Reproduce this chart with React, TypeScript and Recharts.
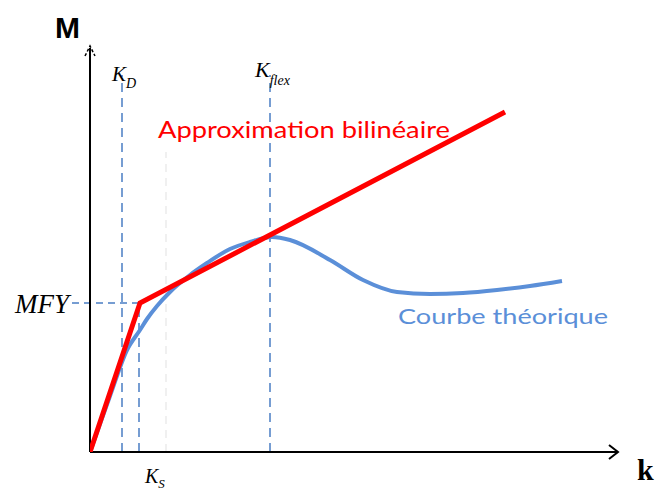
import React from 'react';
import { ComposedChart, Line, XAxis, YAxis, ReferenceLine, ReferenceDot } from 'recharts';

// Bilinear approximation (red)
const bilinearK = [0, 50, 415];
const bilinearM = [0, 149, 340];

// Theoretical curve (blue)
const theoK = [0, 20, 37, 50, 57, 67, 80, 100, 117, 140, 160, 182, 200, 240, 273, 307, 340, 373, 407, 440, 472];
const theoM = [0, 56, 102, 122, 133, 146, 160, 177, 189, 203, 210, 215, 212, 192, 172, 160, 158, 159, 162, 166, 171];

// Characteristic points
const kD = 32;
const kY = 49;
const kS = 76;
const kFlex = 180;
const mFY = 149;

const K_MAX = 528;
const M_MAX = 404;

const bilinear = bilinearK.map((k, i) => ({ k, m: bilinearM[i] }));
const theo = theoK.map((k, i) => ({ k, m: theoM[i] }));

const DASH = '#4a7ec4';
const serif = 'Liberation Serif, serif';

const txt = (content: React.ReactNode, opts: any = {}) => (props: any) => (
    <text
        x={props.cx + (opts.dx || 0)}
        y={props.cy + (opts.dy || 0)}
        fontFamily={opts.font || serif}
        fontSize={opts.size || 20}
        fontStyle={opts.italic ? 'italic' : 'normal'}
        fontWeight={opts.bold ? 'bold' : 'normal'}
        fill={opts.color || '#000'}
        textLength={opts.len}
        lengthAdjust={opts.len ? 'spacingAndGlyphs' : undefined}
    >
        {content}
    </text>
);

const App: React.FC = () => {
    return (
        <div style={{ position: 'absolute', left: 0, top: 0, width: 655, height: 492, background: '#fff' }}>
            <ComposedChart width={655} height={492} margin={{ top: 48, right: 37, bottom: 40, left: 90 }}>
                <XAxis type="number" dataKey="k" domain={[0, K_MAX]} hide allowDataOverflow />
                <YAxis type="number" dataKey="m" domain={[0, M_MAX]} hide allowDataOverflow />

                {/* dashed guides */}
                <ReferenceLine segment={[{ x: kS, y: 0 }, { x: kS, y: 300 }]} stroke="#ececec" strokeWidth={1.5} strokeDasharray="8 6" />
                <ReferenceLine segment={[{ x: kD, y: 0 }, { x: kD, y: 377 }]} stroke={DASH} strokeWidth={1.5} strokeDasharray="9 6" />
                <ReferenceLine segment={[{ x: kY, y: 0 }, { x: kY, y: mFY }]} stroke={DASH} strokeWidth={1.5} strokeDasharray="9 6" />
                <ReferenceLine segment={[{ x: kFlex, y: 0 }, { x: kFlex, y: 377 }]} stroke={DASH} strokeWidth={1.5} strokeDasharray="9 6" />
                <ReferenceLine segment={[{ x: -18, y: mFY }, { x: kY, y: mFY }]} stroke={DASH} strokeWidth={1.5} strokeDasharray="7 5" ifOverflow="visible" />

                {/* axes */}
                <ReferenceLine segment={[{ x: 0, y: 0 }, { x: K_MAX, y: 0 }]} stroke="#000" strokeWidth={2} />
                <ReferenceLine segment={[{ x: 0, y: 0 }, { x: 0, y: M_MAX }]} stroke="#000" strokeWidth={2} />
                <ReferenceDot x={K_MAX} y={0} ifOverflow="visible" shape={(p: any) => (
                    <path d={`M${p.cx - 9},${p.cy - 7} L${p.cx},${p.cy} L${p.cx - 9},${p.cy + 7}`} stroke="#000" strokeWidth={2} fill="none" />
                )} />
                <ReferenceDot x={0} y={M_MAX} ifOverflow="visible" shape={(p: any) => (
                    <path d={`M${p.cx - 5},${p.cy + 8} L${p.cx},${p.cy - 2} L${p.cx + 5},${p.cy + 8}`} stroke="#000" strokeWidth={1.5} fill="none" strokeDasharray="3 2" />
                )} />

                <Line data={theo} dataKey="m" type="monotone" stroke="#5b8fd8" strokeWidth={4} dot={false} isAnimationActive={false} />
                <Line data={bilinear} dataKey="m" type="linear" stroke="#ff0000" strokeWidth={5} dot={false} isAnimationActive={false} />

                {/* labels */}
                <ReferenceDot x={0} y={M_MAX} ifOverflow="visible" shape={txt('M', { font: 'Liberation Sans, sans-serif', size: 30, bold: true, dx: -35, dy: -10 })} />
                <ReferenceDot x={K_MAX} y={0} ifOverflow="visible" shape={txt('k', { size: 30, bold: true, dx: 19, dy: 28 })} />
                <ReferenceDot x={kD} y={377} ifOverflow="visible" shape={txt(
                    <>K<tspan dy={7} fontSize={14}>D</tspan></>, { italic: true, size: 21, dx: -10, dy: 6 }
                )} />
                <ReferenceDot x={kFlex} y={377} ifOverflow="visible" shape={txt(
                    <>K<tspan dy={8} fontSize={14}>flex</tspan></>, { italic: true, size: 22, dx: -15, dy: 2 }
                )} />
                <ReferenceDot x={kS} y={0} ifOverflow="visible" shape={txt(
                    <>K<tspan dy={5} fontSize={13}>S</tspan></>, { italic: true, size: 20, dx: -21, dy: 31 }
                )} />
                <ReferenceDot x={0} y={mFY} ifOverflow="visible" shape={txt('MFY', { italic: true, size: 27, dx: -75, dy: 10 })} />
                <ReferenceDot x={68} y={314} ifOverflow="visible" shape={txt('Approximation bilinéaire', { font: 'Lato, sans-serif', size: 23, color: '#ff0000', len: 292 })} />
                <ReferenceDot x={308} y={128} ifOverflow="visible" shape={txt('Courbe théorique', { font: 'Lato, sans-serif', size: 21, color: '#5b8fd8', len: 210 })} />
            </ComposedChart>
        </div>
    );
};

export default App;
